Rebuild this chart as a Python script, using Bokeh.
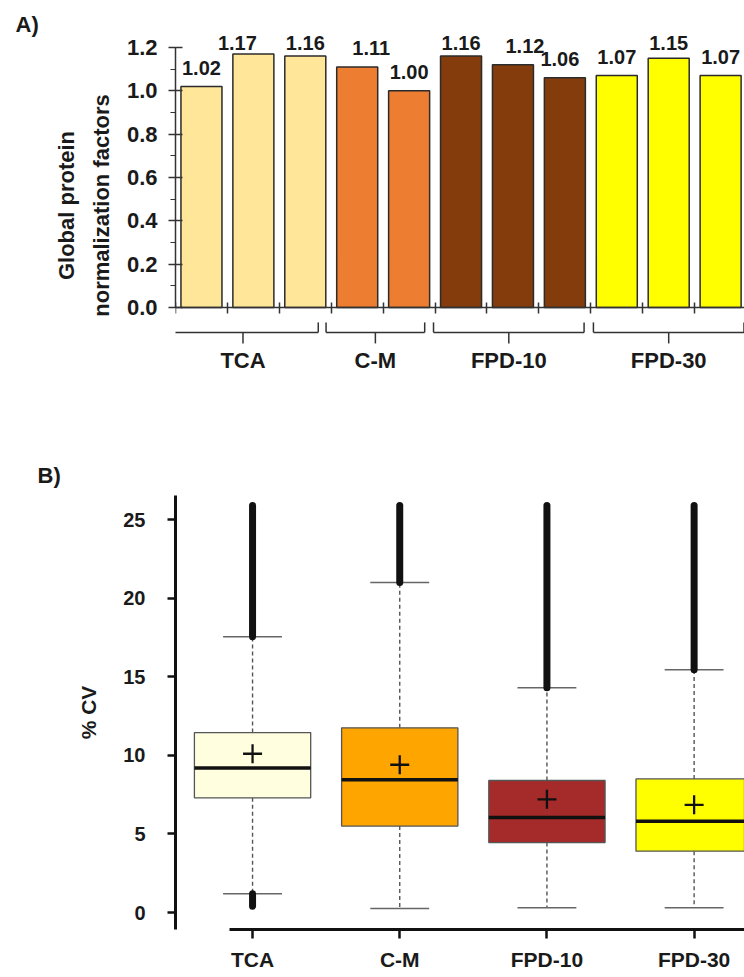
from bokeh.plotting import figure
from bokeh.layouts import column
from bokeh.models import (Label, FixedTicker, SingleIntervalTicker, NumeralTickFormatter,
                          Range1d, ColumnDataSource, CustomJSTickFormatter)
from bokeh.embed import file_html
from bokeh.resources import INLINE
from bokeh.core.properties import value

FONT = "Liberation Sans"
TXT = "#1a1a1a"

# ---------------- Panel A data ----------------
groups = ["TCA", "C-M", "FPD-10", "FPD-30"]
group_sizes = [3, 2, 3, 3]
factors = [1.02, 1.17, 1.16, 1.11, 1.00, 1.16, 1.12, 1.06, 1.07, 1.15, 1.07]
group_colors = ["#FFE699", "#ED7D31", "#843C0C", "#FFFF00"]
# small horizontal shifts of value labels / brackets as placed in the original figure (styling)
label_dx = [0, -16, 0, 14, 0, 0, 12, -5, 0, 0, 0]
bracket_shift = [-0.2, -0.15, -0.08, 0.0]

# ---------------- Panel B data ----------------
cv_groups = ["TCA", "C-M", "FPD-10", "FPD-30"]
cv_q1 = [7.3, 5.5, 4.45, 3.9]
cv_median = [9.2, 8.45, 6.05, 5.8]
cv_q3 = [11.45, 11.75, 8.4, 8.5]
cv_mean = [10.1, 9.4, 7.2, 6.85]
cv_whisker_low = [1.2, 0.25, 0.3, 0.3]
cv_whisker_high = [17.55, 21.0, 14.3, 15.45]
cv_outlier_max = [25.9, 25.9, 25.9, 25.9]
cv_outlier_low_min = [0.4, None, None, None]
box_colors = ["#FFFFE0", "#FFA500", "#A52A2A", "#FFFF00"]

W = 744

# ================= Panel A =================
n = len(factors)
xs = list(range(n))
bar_cols = []
for size, c in zip(group_sizes, group_colors):
    bar_cols += [c] * size

pA = figure(width=W, height=380, x_range=Range1d(-0.5, 10.46), y_range=Range1d(-0.337, 1.278),
            output_backend="svg", toolbar_location=None,
            min_border_left=175, min_border_right=0, min_border_top=30, min_border_bottom=0)
pA.outline_line_color = None
pA.grid.visible = False

srcA = ColumnDataSource(dict(x=xs, top=factors, color=bar_cols,
                             ly=[min(v + 0.085, 1.221) for v in factors],
                             lab=["%.2f" % v for v in factors], dx=label_dx))
pA.vbar(x="x", top="top", width=0.79, fill_color="color", line_color="#2b2b2b",
        line_width=1.5, source=srcA)
pA.text(x="x", y="ly", text="lab", x_offset="dx", text_align="center", text_baseline="middle",
        text_font=value(FONT), text_font_style="bold", text_font_size="20px", text_color=TXT,
        source=srcA)

# group brackets
bx0, bx1, by0, by1 = [], [], [], []
lx, ltxt = [], []
start = 0
y_h, y_end, y_mid = -0.115, -0.069, -0.166
for g, size, sh in zip(groups, group_sizes, bracket_shift):
    left = start - 0.45 + sh
    right = start + size - 1 + 0.45 + sh
    mid = (left + right) / 2
    bx0 += [left, left, right, mid]
    bx1 += [right, left, right, mid]
    by0 += [y_h, y_h, y_h, y_h]
    by1 += [y_h, y_end, y_end, y_mid]
    lx.append(mid)
    ltxt.append(g)
    start += size
pA.segment(x0=bx0, y0=by0, x1=bx1, y1=by1, line_color="#333333", line_width=1.5)
pA.text(x=lx, y=[-0.245] * len(lx), text=ltxt, text_align="center", text_baseline="middle",
        text_font=value(FONT), text_font_style="bold", text_font_size="22px", text_color=TXT)

# axes
pA.yaxis.bounds = (0, 1.20001)
pA.yaxis.ticker = SingleIntervalTicker(interval=0.2, num_minor_ticks=2)
pA.yaxis.formatter = NumeralTickFormatter(format="0.0")
pA.yaxis.axis_line_color = "#333333"
pA.yaxis.axis_line_width = 1.5
pA.yaxis.major_tick_line_color = "#333333"
pA.yaxis.major_tick_line_width = 1.5
pA.yaxis.major_tick_in = 7
pA.yaxis.major_tick_out = 7
pA.yaxis.minor_tick_line_color = "#333333"
pA.yaxis.minor_tick_line_width = 1.2
pA.yaxis.minor_tick_in = 0
pA.yaxis.minor_tick_out = 5
pA.yaxis.major_label_standoff = 11
pA.yaxis.major_label_text_font = FONT
pA.yaxis.major_label_text_font_style = "bold"
pA.yaxis.major_label_text_font_size = "22px"
pA.yaxis.major_label_text_color = TXT
pA.yaxis.axis_label = "Global protein\nnormalization factors"
pA.yaxis.axis_label_text_font = FONT
pA.yaxis.axis_label_text_font_style = "bold"
pA.yaxis.axis_label_text_font_size = "22px"
pA.yaxis.axis_label_text_color = TXT
pA.yaxis.axis_label_text_line_height = 1.4
pA.yaxis.axis_label_standoff = 10

pA.xaxis.fixed_location = 0
pA.xaxis.ticker = FixedTicker(ticks=[i - 0.5 for i in range(n + 1)])
pA.xaxis.formatter = CustomJSTickFormatter(code="return ''")
pA.xaxis.axis_line_color = "#333333"
pA.xaxis.axis_line_width = 1.5
pA.xaxis.major_tick_line_color = "#333333"
pA.xaxis.major_tick_line_width = 1.5
pA.xaxis.major_tick_in = 5
pA.xaxis.major_tick_out = 6
pA.xaxis.minor_tick_line_color = None
pA.xaxis.major_label_text_font_size = "1px"
pA.xaxis.major_label_standoff = 0

pA.add_layout(Label(x=-0.5, y=1.304, x_offset=-160, text="A)",
                    text_font=FONT, text_font_style="bold", text_font_size="22px",
                    text_color=TXT, text_baseline="middle"), "left")

# ================= Panel B =================
m = len(cv_groups)
bxs = list(range(1, m + 1))
hw = 0.395
cw = 0.2

pB = figure(width=W, height=596, x_range=Range1d(0.4765, 4.3423), y_range=Range1d(-1.08, 26.53),
            output_backend="svg", toolbar_location=None,
            min_border_left=168, min_border_right=0, min_border_top=115, min_border_bottom=47)
pB.outline_line_color = None
pB.grid.visible = False

# whiskers (dashed)
pB.segment(x0=bxs + bxs, y0=cv_q3 + cv_q1, x1=bxs + bxs, y1=cv_whisker_high + cv_whisker_low,
           line_color="#555555", line_width=1.4, line_dash="4 3")
# whisker caps
pB.segment(x0=[x - cw for x in bxs] * 2, y0=cv_whisker_high + cv_whisker_low,
           x1=[x + cw for x in bxs] * 2, y1=cv_whisker_high + cv_whisker_low,
           line_color="#666666", line_width=1.5)
# outliers (dense columns of points)
ox, oy0, oy1 = [], [], []
for x, wh, omax, wl, omin in zip(bxs, cv_whisker_high, cv_outlier_max, cv_whisker_low, cv_outlier_low_min):
    ox.append(x); oy0.append(wh); oy1.append(omax)
    if omin is not None:
        ox.append(x); oy0.append(omin); oy1.append(wl)
pB.segment(x0=ox, y0=oy0, x1=ox, y1=oy1, line_color="#111111", line_width=7, line_cap="round")
# boxes
pB.vbar(x=bxs, bottom=cv_q1, top=cv_q3, width=2 * hw, fill_color=box_colors,
        line_color="#555555", line_width=1.3)
# medians
pB.segment(x0=[x - hw for x in bxs], y0=cv_median, x1=[x + hw for x in bxs], y1=cv_median,
           line_color="#111111", line_width=3.5)
# means
pB.scatter(x=bxs, y=cv_mean, marker="cross", size=19, line_width=2.3, line_color="#111111")

pB.xaxis.ticker = FixedTicker(ticks=bxs)
pB.xaxis.major_label_overrides = {x: g for x, g in zip(bxs, cv_groups)}
pB.xaxis.bounds = (0.846, 4.6)
pB.yaxis.ticker = SingleIntervalTicker(interval=5)
for ax in (pB.xaxis[0], pB.yaxis[0]):
    ax.axis_line_color = "#111111"
    ax.axis_line_width = 3
    ax.major_tick_line_color = "#111111"
    ax.major_tick_line_width = 2.5
    ax.major_tick_in = 0
    ax.minor_tick_line_color = None
    ax.major_label_text_font = FONT
    ax.major_label_text_font_style = "bold"
    ax.major_label_text_color = TXT
pB.xaxis.major_label_text_font_size = "21px"
pB.yaxis.major_label_text_font_size = "20px"
pB.xaxis.major_tick_out = 9
pB.xaxis.major_label_standoff = 9
pB.yaxis.major_tick_out = 8
pB.yaxis.major_label_standoff = 22
pB.yaxis.axis_label = "% CV"
pB.yaxis.axis_label_text_font = FONT
pB.yaxis.axis_label_text_font_style = "bold"
pB.yaxis.axis_label_text_font_size = "21px"
pB.yaxis.axis_label_text_color = TXT
pB.yaxis.axis_label_standoff = 20

pB.add_layout(Label(x=0.4765, y=27.8, x_offset=-138, text="B)",
                    text_font=FONT, text_font_style="bold", text_font_size="22px",
                    text_color=TXT, text_baseline="middle"), "left")

layout = column(pA, pB, spacing=0)
open("out.html", "w").write(file_html(layout, INLINE))
